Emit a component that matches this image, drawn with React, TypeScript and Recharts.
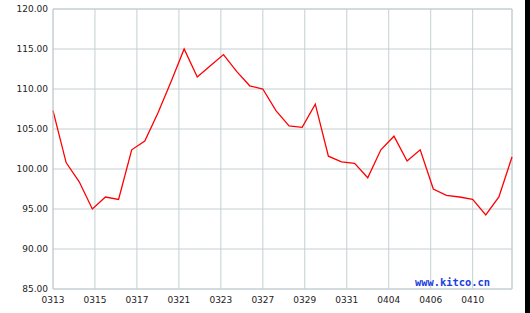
import React from "react";
import { LineChart, Line, XAxis, YAxis, CartesianGrid, ReferenceLine } from "recharts";

const prices: number[] = [
  107.3, 100.8, 98.4, 95.0, 96.5, 96.2, 102.4, 103.5, 107.0, 110.9,
  115.0, 111.5, 112.9, 114.3, 112.2, 110.4, 110.0, 107.3, 105.4, 105.2,
  108.1, 101.6, 100.9, 100.7, 98.9, 102.4, 104.1, 101.0, 102.4, 97.5,
  96.7, 96.5, 96.2, 94.25, 96.5, 101.5,
];

const xTickLabels: string[] = [
  "0313", "0315", "0317", "0321", "0323", "0327", "0329", "0331", "0404", "0406", "0410",
];

const yTicks: number[] = [85, 90, 95, 100, 105, 110, 115, 120];

const data = prices.map((v, i) => ({ idx: i, price: v }));
const tickStep = (prices.length - 1) / 10.9375;
const xTicks = xTickLabels.map((_, i) => i * tickStep);

const gridColor = "#c4cfd3";

export default function App() {
  return (
    <div style={{ position: "absolute", left: 0, top: 0, width: 530, height: 313, background: "#fff" }}>
      <LineChart
        width={530}
        height={313}
        data={data}
        margin={{ top: 9, right: 18, bottom: 0, left: 0 }}
      >
        <CartesianGrid stroke={gridColor} vertical horizontal verticalPoints={undefined} />
        <XAxis
          dataKey="idx"
          type="number"
          domain={[0, prices.length - 1]}
          ticks={xTicks}
          tickFormatter={(v: number) => xTickLabels[Math.round(v / tickStep)] ?? ""}
          interval={0}
          height={24}
          tickLine={false}
          axisLine={{ stroke: gridColor }}
          tick={{ fontSize: 9, fill: "#222", fontFamily: "DejaVu Sans" }}
        />
        <YAxis
          domain={[85, 120]}
          ticks={yTicks}
          width={53}
          interval={0}
          tickLine={false}
          tickSize={5}
          tickMargin={0}
          axisLine={{ stroke: gridColor }}
          tickFormatter={(v: number) => v.toFixed(2)}
          tick={{ fontSize: 9, fill: "#222", fontFamily: "DejaVu Sans" }}
        />
        <ReferenceLine x={prices.length - 1} stroke={gridColor} />
        <ReferenceLine y={120} stroke={gridColor} />
        <Line
          type="linear"
          dataKey="price"
          stroke="#ff0000"
          strokeWidth={1.3}
          dot={false}
          isAnimationActive={false}
        />
      </LineChart>
      <div
        style={{
          position: "absolute",
          left: 415,
          top: 275,
          fontFamily: "DejaVu Sans Mono",
          fontWeight: "bold",
          fontSize: 10.4,
          color: "#1a3ee0",
          lineHeight: "14px",
          whiteSpace: "nowrap",
        }}
      >
        www.kitco.cn
      </div>
      <div style={{ position: "absolute", left: 525, top: 0, width: 5, height: 313, background: "#000" }} />
    </div>
  );
}
